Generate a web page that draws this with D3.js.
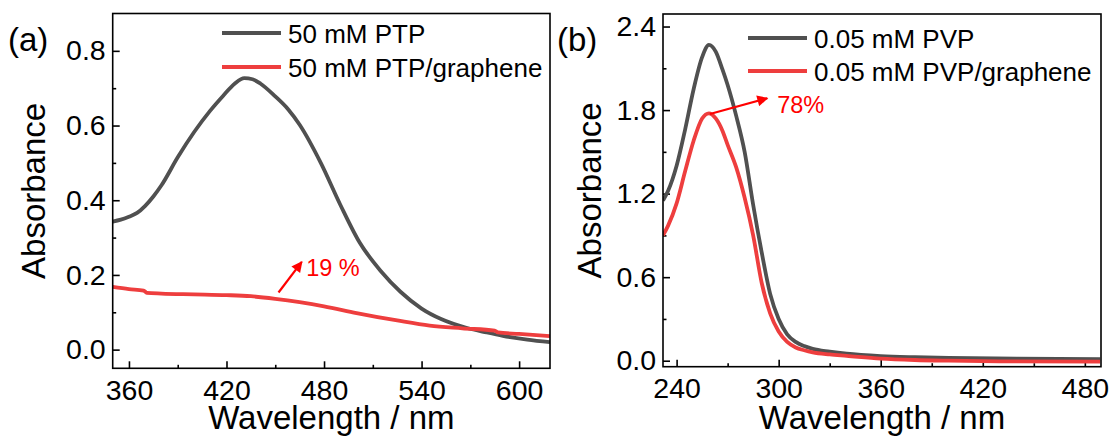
<!DOCTYPE html>
<html>
<head>
<meta charset="utf-8">
<script src="https://cdn.jsdelivr.net/npm/d3@7"></script>
<style>
  body { margin: 0; background: #fff; }
  text { font-family: "Liberation Sans", Arial, sans-serif; }
</style>
</head>
<body>
<div id="chart"></div>
<script>
// panel (a): PTP
const ptpWave = [350, 355, 360, 365, 370, 375, 380, 390, 400, 410, 418, 425, 431, 436, 441, 450, 458, 465, 478, 490, 502, 515, 527, 540, 552, 568, 580, 590, 605, 619];
const ptpAbs = [0.343, 0.348, 0.356, 0.366, 0.385, 0.41, 0.44, 0.515, 0.582, 0.640, 0.68, 0.712, 0.727, 0.724, 0.712, 0.678, 0.643, 0.602, 0.500, 0.388, 0.286, 0.210, 0.155, 0.110, 0.082, 0.058, 0.046, 0.037, 0.027, 0.020];
const ptpGrWave = [350, 360, 369, 371, 380, 400, 420, 435, 450, 465, 480, 500, 525, 545, 565, 585, 587, 600, 619];
const ptpGrAbs = [0.168, 0.162, 0.158, 0.152, 0.150, 0.148, 0.146, 0.143, 0.136, 0.127, 0.116, 0.098, 0.078, 0.064, 0.057, 0.051, 0.046, 0.042, 0.036];

// panel (b): PVP
const pvpWave = [232, 235, 240, 245, 250, 255, 259, 263, 267, 270, 275, 280, 285, 290, 295, 300, 305, 310, 315, 320, 330, 340, 360, 380, 400, 440, 489];
const pvpAbs = [1.15, 1.22, 1.40, 1.66, 1.95, 2.18, 2.268, 2.22, 2.09, 1.98, 1.76, 1.50, 1.12, 0.78, 0.48, 0.30, 0.19, 0.135, 0.105, 0.085, 0.065, 0.05, 0.033, 0.025, 0.02, 0.015, 0.012];
const pvpGrAbs = [0.90, 0.97, 1.13, 1.36, 1.58, 1.74, 1.777, 1.74, 1.65, 1.55, 1.39, 1.17, 0.90, 0.56, 0.34, 0.21, 0.135, 0.095, 0.075, 0.06, 0.045, 0.035, 0.015, 0.005, 0.0, -0.005, -0.007];

const xTicksA = [360, 420, 480, 540, 600];
const xMinorA = [390, 450, 510, 570];
const yTicksA = [0.0, 0.2, 0.4, 0.6, 0.8];
const yMinorA = [0.1, 0.3, 0.5, 0.7];
const xTicksB = [240, 300, 360, 420, 480];
const xMinorB = [270, 330, 390, 450];
const yTicksB = [0.0, 0.6, 1.2, 1.8, 2.4];
const yMinorB = [0.3, 0.9, 1.5, 2.1];

const legendA = ["50 mM PTP", "50 mM PTP/graphene"];
const legendB = ["0.05 mM PVP", "0.05 mM PVP/graphene"];

const width = 1115;
const height = 436;
const grey = "#505050";
const red = "#ee3e3e";
const annot = "#ff0000";

const svg = d3
  .create("svg")
  .attr("width", width)
  .attr("height", height)
  .attr("viewBox", [0, 0, width, height]);

svg.append("defs")
  .append("marker")
  .attr("id", "head")
  .attr("viewBox", "0 0 10 10")
  .attr("refX", 9)
  .attr("refY", 5)
  .attr("markerWidth", 6)
  .attr("markerHeight", 5)
  .attr("markerUnits", "strokeWidth")
  .attr("orient", "auto")
  .append("path")
  .attr("d", "M0,0 L10,5 L0,10 Z")
  .attr("fill", annot);

function panel(opt) {
  const x = d3.scaleLinear().domain(opt.xDomain).range([opt.left, opt.right]);
  const y = d3.scaleLinear().domain(opt.yDomain).range([opt.bottom, opt.top]);

  const g = svg.append("g");

  // minor ticks
  g.append("g")
    .attr("transform", `translate(0,${opt.bottom})`)
    .call(d3.axisBottom(x).tickValues(opt.xMinor).tickSize(-3.5).tickFormat(""))
    .call((a) => a.select(".domain").remove());
  g.append("g")
    .attr("transform", `translate(${opt.left},0)`)
    .call(d3.axisLeft(y).tickValues(opt.yMinor).tickSize(-3.5).tickFormat(""))
    .call((a) => a.select(".domain").remove());

  // major ticks
  g.append("g")
    .attr("transform", `translate(0,${opt.bottom})`)
    .call(d3.axisBottom(x).tickValues(opt.xTicks).tickSize(-7).tickPadding(11))
    .call((a) => a.select(".domain").remove());
  g.append("g")
    .attr("transform", `translate(${opt.left},0)`)
    .call(d3.axisLeft(y).tickValues(opt.yTicks).tickSize(-7).tickPadding(7).tickFormat(d3.format(".1f")))
    .call((a) => a.select(".domain").remove());

  g.selectAll(".tick line").attr("stroke", "#000").attr("stroke-width", 1.6);
  g.selectAll(".tick text")
    .attr("font-family", "Liberation Sans, Arial, sans-serif")
    .attr("font-size", 28.5)
    .attr("fill", "#000");

  const clipId = "clip" + opt.name;
  svg.append("clipPath")
    .attr("id", clipId)
    .append("rect")
    .attr("x", opt.left)
    .attr("y", opt.top)
    .attr("width", opt.right - opt.left)
    .attr("height", opt.bottom - opt.top);

  const line = d3
    .line()
    .curve(d3.curveMonotoneX)
    .x((d) => x(d[0]))
    .y((d) => y(d[1]));

  opt.series.forEach((s) => {
    g.append("path")
      .datum(d3.zip(s.wave, s.abs))
      .attr("clip-path", `url(#${clipId})`)
      .attr("fill", "none")
      .attr("stroke", s.color)
      .attr("stroke-width", 3.8)
      .attr("stroke-linejoin", "round")
      .attr("d", line);
  });

  // frame
  g.append("rect")
    .attr("x", opt.left)
    .attr("y", opt.top)
    .attr("width", opt.right - opt.left)
    .attr("height", opt.bottom - opt.top)
    .attr("fill", "none")
    .attr("stroke", "#000")
    .attr("stroke-width", 1.6);

  // legend
  opt.series.forEach((s, i) => {
    const ly = opt.legendY[i];
    g.append("line")
      .attr("x1", opt.legendX)
      .attr("x2", opt.legendX + 59)
      .attr("y1", ly)
      .attr("y2", ly)
      .attr("stroke", s.color)
      .attr("stroke-width", 3.8);
    g.append("text")
      .attr("x", opt.legendX + 66)
      .attr("y", ly + 9.5)
      .attr("font-size", 26)
      .attr("fill", "#000")
      .text(s.label);
  });

  // axis titles
  g.append("text")
    .attr("x", (opt.left + opt.right) / 2)
    .attr("y", 429)
    .attr("text-anchor", "middle")
    .attr("font-size", 33)
    .text("Wavelength / nm");
  g.append("text")
    .attr("transform", `translate(${opt.titleX},${(opt.top + opt.bottom) / 2}) rotate(-90)`)
    .attr("text-anchor", "middle")
    .attr("font-size", 33)
    .text("Absorbance");
  g.append("text")
    .attr("x", opt.tagX)
    .attr("y", 51)
    .attr("font-size", 33)
    .text(opt.tag);

  // annotation arrow + label
  const a = opt.arrow;
  g.append("line")
    .attr("x1", x(a.from[0]))
    .attr("y1", y(a.from[1]))
    .attr("x2", x(a.to[0]))
    .attr("y2", y(a.to[1]))
    .attr("stroke", annot)
    .attr("stroke-width", 2.2)
    .attr("marker-end", "url(#head)");
  g.append("text")
    .attr("x", x(a.label[0]))
    .attr("y", y(a.label[1]))
    .attr("font-size", 23.5)
    .attr("fill", annot)
    .text(a.text);
}

panel({
  name: "a",
  left: 112.7, right: 550, top: 13.5, bottom: 368.3,
  xDomain: [350, 619], yDomain: [-0.05, 0.9],
  xTicks: xTicksA, xMinor: xMinorA, yTicks: yTicksA, yMinor: yMinorA,
  series: [
    { wave: ptpWave, abs: ptpAbs, color: grey, label: legendA[0] },
    { wave: ptpGrWave, abs: ptpGrAbs, color: red, label: legendA[1] }
  ],
  legendX: 222, legendY: [33, 67],
  titleX: 45, tagX: 8, tag: "(a)",
  arrow: { from: [452, 0.153], to: [466.3, 0.235], label: [469, 0.198], text: "19 %" }
});

panel({
  name: "b",
  left: 663, right: 1101, top: 14, bottom: 366.7,
  xDomain: [232, 489.5], yDomain: [-0.043, 2.49],
  xTicks: xTicksB, xMinor: xMinorB, yTicks: yTicksB, yMinor: yMinorB,
  series: [
    { wave: pvpWave, abs: pvpAbs, color: grey, label: legendB[0] },
    { wave: pvpWave, abs: pvpGrAbs, color: red, label: legendB[1] }
  ],
  legendX: 748, legendY: [38, 71],
  titleX: 601, tagX: 557, tag: "(b)",
  arrow: { from: [259.6, 1.772], to: [293.3, 1.885], label: [299.1, 1.777], text: "78%" }
});

document.getElementById("chart").append(svg.node());
</script>
</body>
</html>
